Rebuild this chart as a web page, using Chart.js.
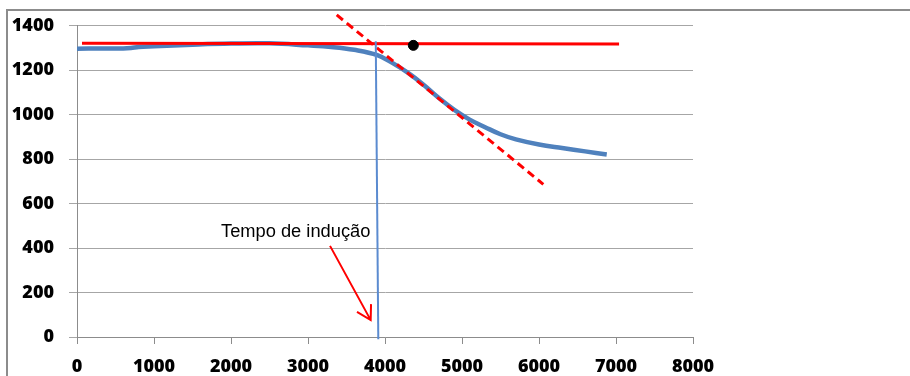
<!DOCTYPE html>
<html>
<head>
<meta charset="utf-8">
<script src="https://cdn.jsdelivr.net/npm/chart.js@4.4.1/dist/chart.umd.min.js"></script>
<style>
    body { margin: 0; background: #fff; overflow: hidden; }
    #wrap { position: relative; width: 910px; height: 376px; }
    #frame {
        position: absolute; left: 6px; top: 9px; width: 920px; height: 400px;
        border-top: 2px solid #8c8c8c; border-left: 2px solid #8c8c8c;
    }
    #grafico { position: absolute; left: 0; top: 0; }
</style>
</head>
<body>
<div id="wrap">
    <div id="frame"></div>
    <canvas id="grafico" width="910" height="376"></canvas>
</div>
<script>
// curva medida (tempo x valor)
const tempo = [0, 300, 600, 700, 800, 1000, 1500, 2000, 2500, 3000, 3300, 3600, 3900, 4100, 4300, 4500, 4700, 4900, 5100, 5300, 5500, 5700, 6000, 6300, 6600, 6880];
const valores = [1297, 1298, 1298, 1300, 1305, 1308, 1315, 1320, 1321, 1312, 1305, 1292, 1268, 1232, 1188, 1135, 1075, 1022, 978, 944, 912, 889, 866, 850, 835, 821];

// linhas auxiliares
const linhaBaseX = [65, 7040];
const linhaBaseY = [1322, 1318];
const tangenteX = [3373, 6056];
const tangenteY = [1449, 687];
const verticalX = [3880, 3913];
const verticalY = [1330, -10];
const pontoX = [4368];
const pontoY = [1312];

// anotação
const setaX = [3286, 3814];
const setaY = [410, 76];
const rotulo = 'Tempo de indução';
const rotuloPos = [1870, 450];

const xTicks = [0, 1000, 2000, 3000, 4000, 5000, 6000, 7000, 8000];
const yTicks = [0, 200, 400, 600, 800, 1000, 1200, 1400];

const pares = (xs, ys) => xs.map((x, i) => ({ x: x, y: ys[i] }));

const anotacao = {
    id: 'anotacao',
    afterDatasetsDraw(chart) {
        const ctx = chart.ctx;
        const sx = chart.scales.x, sy = chart.scales.y;
        ctx.save();
        ctx.fillStyle = '#000';
        ctx.font = '18.3px "Liberation Sans", Arial, sans-serif';
        ctx.textBaseline = 'alphabetic';
        ctx.fillText(rotulo, sx.getPixelForValue(rotuloPos[0]), sy.getPixelForValue(rotuloPos[1]));

        const x0 = sx.getPixelForValue(setaX[0]), y0 = sy.getPixelForValue(setaY[0]);
        const x1 = sx.getPixelForValue(setaX[1]), y1 = sy.getPixelForValue(setaY[1]);
        const ang = Math.atan2(y1 - y0, x1 - x0);
        ctx.strokeStyle = '#ff0000';
        ctx.lineWidth = 2;
        ctx.beginPath();
        ctx.moveTo(x0, y0);
        ctx.lineTo(x1, y1);
        ctx.moveTo(x1 - 16 * Math.cos(ang - Math.PI / 6), y1 - 16 * Math.sin(ang - Math.PI / 6));
        ctx.lineTo(x1, y1);
        ctx.lineTo(x1 - 16 * Math.cos(ang + Math.PI / 6), y1 - 16 * Math.sin(ang + Math.PI / 6));
        ctx.stroke();
        ctx.restore();
    }
};

const fonteEixo = { family: '"Open Sans", sans-serif', size: 18, weight: 800 };

new Chart(document.getElementById('grafico').getContext('2d'), {
    type: 'scatter',
    data: {
        datasets: [
            {
                data: pares(verticalX, verticalY),
                showLine: true, borderColor: '#5b8bd0', borderWidth: 2,
                pointRadius: 0, clip: false, order: 1
            },
            {
                data: pares(pontoX, pontoY),
                pointRadius: 5, pointBackgroundColor: '#000', pointBorderColor: '#000', order: 0
            },
            {
                data: pares(tangenteX, tangenteY),
                showLine: true, borderColor: '#ff0000', borderWidth: 3, borderDash: [8, 5],
                pointRadius: 0, clip: false, order: 2
            },
            {
                data: pares(linhaBaseX, linhaBaseY),
                showLine: true, borderColor: '#ff0000', borderWidth: 3,
                pointRadius: 0, order: 3
            },
            {
                data: pares(tempo, valores),
                showLine: true, borderColor: '#4f81bd', borderWidth: 4.5,
                tension: 0.4, pointRadius: 0, order: 4
            }
        ]
    },
    options: {
        responsive: false,
        animation: false,
        events: [],
        layout: { padding: { top: 23, right: 217, left: 0, bottom: 0 } },
        plugins: { legend: { display: false }, tooltip: { enabled: false } },
        scales: {
            x: {
                type: 'linear', min: 0, max: 8000,
                afterBuildTicks: s => { s.ticks = xTicks.map(v => ({ value: v })); },
                afterFit: s => { s.height = 39; },
                grid: { drawOnChartArea: false, drawTicks: true, tickLength: 7, color: '#8c8c8c' },
                border: { display: true, color: '#8c8c8c', width: 1 },
                ticks: { color: '#000', font: fonteEixo, padding: 12, maxRotation: 0, callback: v => String(v) }
            },
            y: {
                type: 'linear', min: 0, max: 1400,
                afterBuildTicks: s => { s.ticks = yTicks.map(v => ({ value: v })); },
                afterFit: s => { s.width = 77; },
                grid: { color: '#a6a6a6', lineWidth: 1, tickLength: 8 },
                border: { display: true, color: '#8c8c8c', width: 1 },
                ticks: { color: '#000', font: fonteEixo, padding: 15, callback: v => String(v) }
            }
        }
    },
    plugins: [anotacao]
});
</script>
</body>
</html>
